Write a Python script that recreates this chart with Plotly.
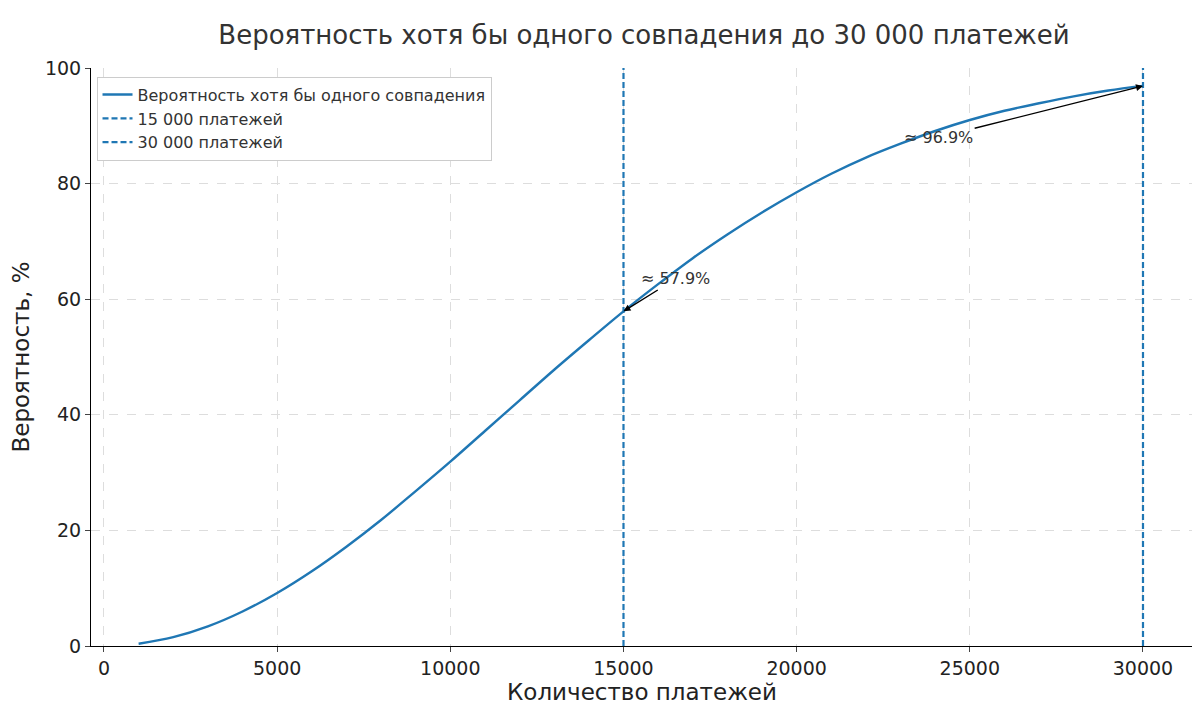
import plotly.graph_objects as go

payments = [1000,2000,3000,4000,5000,6000,7000,8000,9000,10000,11000,12000,13000,14000,15000,
            16000,17000,18000,19000,20000,21000,22000,23000,24000,25000,26000,27000,28000,29000,30000]
prob = [0.38,1.53,3.40,5.97,9.17,12.93,17.18,21.8,26.8,31.9,37.2,42.5,47.8,52.9,57.9,
        62.6,67.1,71.2,75.0,78.5,81.7,84.5,86.9,89.1,91.0,92.6,93.9,95.1,96.1,96.9]
vlines = [15000, 30000]
vline_names = ["15 000 платежей", "30 000 платежей"]
marks = [(15000, 57.9, "≈ 57.9%"), (30000, 96.9, "≈ 96.9%")]
xticks = [0, 5000, 10000, 15000, 20000, 25000, 30000]

blue = "#1f77b4"
fig = go.Figure()
fig.add_trace(go.Scatter(x=payments, y=prob, mode="lines", line=dict(color=blue, width=2.4, shape="spline"),
                         name="Вероятность хотя бы одного совпадения"))
for v, n in zip(vlines, vline_names):
    fig.add_trace(go.Scatter(x=[v, v], y=[0, 100], mode="lines", name=n,
                             line=dict(color=blue, width=2.2, dash="6px,3px")))
fig.add_annotation(x=marks[0][0], y=marks[0][1], ax=16500, ay=63.5, axref="x", ayref="y",
                   text=marks[0][2], showarrow=True, arrowhead=2, arrowsize=1, arrowwidth=1.4,
                   arrowcolor="black", font=dict(size=16, color="#333"), xanchor="center")
fig.add_annotation(x=marks[1][0], y=marks[1][1], ax=24100, ay=88, axref="x", ayref="y",
                   text=marks[1][2], showarrow=True, arrowhead=2, arrowsize=1, arrowwidth=1.4,
                   arrowcolor="black", font=dict(size=16, color="#333"), xanchor="center")
fig.update_layout(
    width=1200, height=702, plot_bgcolor="white", paper_bgcolor="white",
    font=dict(family="DejaVu Sans", size=19, color="#222"),
    title=dict(text="Вероятность хотя бы одного совпадения до 30 000 платежей", x=0.53, y=0.975,
               xanchor="center", font=dict(size=26, color="#333")),
    margin=dict(l=83, r=15, t=60, b=64),
    legend=dict(x=0.005, y=0.985, xanchor="left", yanchor="top", bgcolor="white",
                bordercolor="#ccc", borderwidth=1, font=dict(size=16, color="#333")),
    xaxis=dict(title=dict(text="Количество платежей", standoff=6), range=[-375, 31444],
               tickvals=xticks, ticktext=[str(t) for t in xticks], showgrid=True, gridcolor="#ddd",
               griddash="dash", gridwidth=0.8, showline=True, linecolor="black", ticks="outside",
               zeroline=False, automargin=False),
    yaxis=dict(title=dict(text="Вероятность, %", standoff=8), range=[0, 100], tickvals=[0,20,40,60,80,100],
               showgrid=True, gridcolor="#ddd", griddash="dash", gridwidth=0.8, showline=True,
               linecolor="black", ticks="outside", zeroline=False, automargin=False),
)
fig.write_html("out.html")
